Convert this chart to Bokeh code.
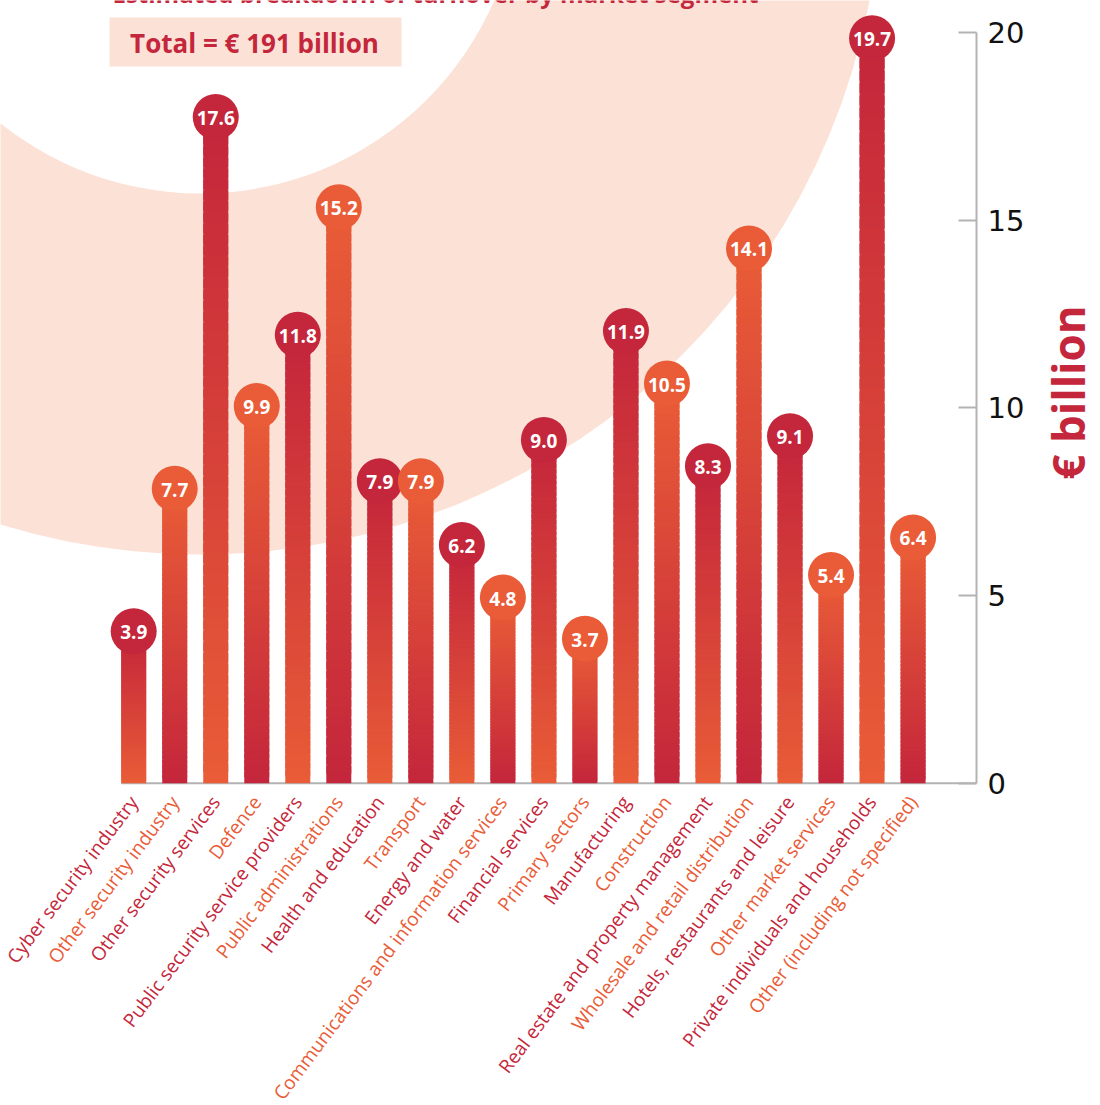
import math
from bokeh.plotting import figure
from bokeh.models import Range1d, FixedTicker, LinearAxis, Label
from bokeh.core.properties import value
from bokeh.embed import file_html
from bokeh.resources import INLINE

# ---------------- data ----------------
categories = [
    "Cyber security industry",
    "Other security industry",
    "Other security services",
    "Defence",
    "Public security service providers",
    "Public administrations",
    "Health and education",
    "Transport",
    "Energy and water",
    "Communications and information services",
    "Financial services",
    "Primary sectors",
    "Manufacturing",
    "Construction",
    "Real estate and property management",
    "Wholesale and retail distribution",
    "Hotels, restaurants and leisure",
    "Other market services",
    "Private individuals and households",
    "Other (including not specified)",
]
values = [3.9, 7.7, 17.6, 9.9, 11.8, 15.2, 7.9, 7.9, 6.2, 4.8,
          9.0, 3.7, 11.9, 10.5, 8.3, 14.1, 9.1, 5.4, 19.7, 6.4]
y_ticks = [0, 5, 10, 15, 20]
title_text = "Estimated breakdown of turnover by market segment"
total_text = "Total = € 191 billion"
axis_title = "€ billion"

# ---------------- style ----------------
CRIMSON = "#C4263B"
ORANGE = "#E95C37"
PEACH = "#FCE1D6"
GREY = "#B3B3B3"
FONT = "Open Sans"

# page geometry (px) used to set ranges
W, H = 1100, 1105
X0_PX, DX_PX = 133.2, 41.02      # centre of first bar, bar spacing
Y0_PX, DY_PX = 782.7, 37.535     # zero line, px per unit
AXIS_PX = 976
BAR_W = 25 / DX_PX
CIRCLE_R = 23
CIRCLE_LIFT = 5.5 / DY_PX


def xd(px):
    return (px - X0_PX) / DX_PX


def yd(py):
    return (Y0_PX - py) / DY_PX


def mix(c1, c2, t):
    a = [int(c1[i:i + 2], 16) for i in (1, 3, 5)]
    b = [int(c2[i:i + 2], 16) for i in (1, 3, 5)]
    return "#%02x%02x%02x" % tuple(round(a[k] + (b[k] - a[k]) * t) for k in range(3))


p = figure(width=W, height=H,
           x_range=Range1d(xd(0), xd(AXIS_PX)),
           y_range=Range1d(yd(H), yd(0)),
           output_backend="svg", toolbar_location=None,
           x_axis_location=None, y_axis_location=None,
           min_border_left=0, min_border_top=0, min_border_bottom=0,
           min_border_right=W - AXIS_PX)
p.outline_line_color = None
p.grid.visible = False
p.background_fill_color = "white"
p.border_fill_color = "white"

# background ring
p.annulus(x=[xd(200)], y=[yd(-127)], inner_radius=320, outer_radius=681,
          inner_radius_units="screen", outer_radius_units="screen",
          fill_color=PEACH, line_color=None)

# title (cut at top in the original)
p.text(x=[xd(112)], y=[yd(-7)], text=[title_text], text_align="left",
       text_baseline="alphabetic", text_color=CRIMSON,
       text_font=value(FONT), text_font_style="bold", text_font_size="24px")

# total box
p.quad(left=[xd(109)], right=[xd(401)], top=[yd(17)], bottom=[yd(66)],
       fill_color=PEACH, line_color=None)
p.text(x=[xd(254)], y=[yd(42)], text=[total_text], text_align="center",
       text_baseline="middle", text_color=CRIMSON,
       text_font=value(FONT), text_font_style="bold", text_font_size="26px")

# baseline
p.segment(x0=[-BAR_W / 2], y0=[0], x1=[xd(AXIS_PX)], y1=[0],
          line_color=GREY, line_width=2)

# gradient bars
idx = list(range(len(values)))
top_cols = [CRIMSON if i % 2 == 0 else ORANGE for i in idx]
bot_cols = [ORANGE if i % 2 == 0 else CRIMSON for i in idx]
N = 60
xs, bots, tops, cols = [], [], [], []
for i, v in enumerate(values):
    for k in range(N):
        t = (k + 0.5) / N
        xs.append(i)
        bots.append(v * k / N)
        tops.append(min(v, v * (k + 1.8) / N))
        cols.append(mix(bot_cols[i], top_cols[i], t))
p.vbar(x=xs, bottom=bots, top=tops, width=BAR_W, fill_color=cols, line_color=None)

# value bubbles
cy = [v + CIRCLE_LIFT for v in values]
p.circle(x=idx, y=cy, radius=CIRCLE_R, radius_units="screen",
         fill_color=top_cols, line_color=None)
p.text(x=idx, y=cy, text=["%.1f" % v for v in values], text_align="center",
       text_baseline="middle", text_color="white", y_offset=1,
       text_font=value(FONT), text_font_style="bold", text_font_size="19px")

# category labels
p.text(x=idx, y=[0] * len(idx), text=categories, angle=math.radians(53),
       text_align="right", text_baseline="middle", x_offset=0, y_offset=15,
       text_color=top_cols, text_font=value(FONT), text_font_size="19px")

# right axis
ax = LinearAxis(bounds=(0, 20), ticker=FixedTicker(ticks=y_ticks))
ax.axis_line_color = GREY
ax.axis_line_width = 2
ax.major_tick_line_color = GREY
ax.major_tick_line_width = 2
ax.major_tick_in = 18
ax.major_tick_out = 0
ax.minor_tick_line_color = None
ax.major_label_standoff = 11
ax.major_label_text_font = "DejaVu Sans"
ax.major_label_text_font_size = "29px"
ax.major_label_text_color = "#111111"
p.add_layout(ax, "right")

# axis title, placed in the right side panel (not clipped by the frame)
p.add_layout(Label(x=xd(1067), y=yd(392), text=axis_title, angle=math.pi / 2,
                   text_align="center", text_baseline="middle",
                   text_font=FONT, text_font_style="bold",
                   text_font_size="44px", text_color=CRIMSON), "right")

open("out.html", "w").write(file_html(p, INLINE))
